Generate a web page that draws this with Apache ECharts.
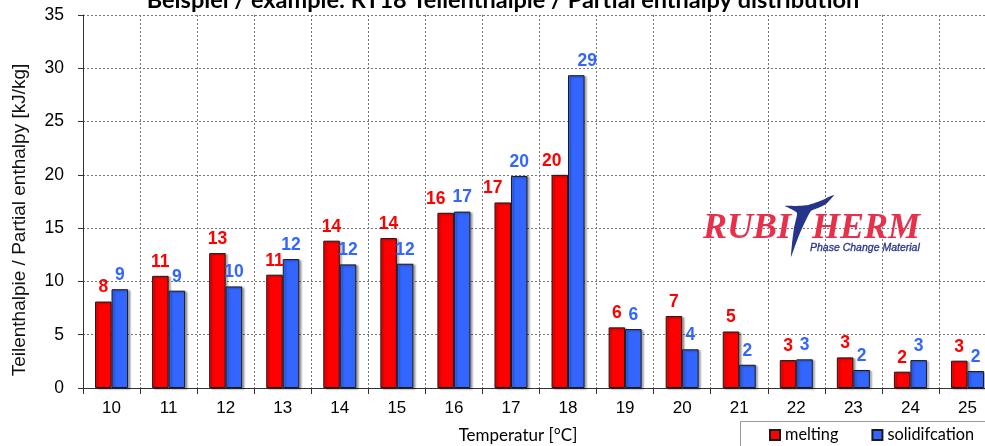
<!DOCTYPE html>
<html>
<head>
<meta charset="utf-8">
<script src="https://cdn.jsdelivr.net/npm/echarts@6/dist/echarts.min.js"></script>
<style>html,body{margin:0;padding:0;background:#fff}#c{width:985px;height:446px}</style>
</head>
<body>
<div id="c"></div>
<script>
var categories = ['10','11','12','13','14','15','16','17','18','19','20','21','22','23','24','25'];
var melting = [8.11, 10.52, 12.66, 10.63, 13.82, 14.07, 16.44, 17.41, 20.0, 5.69, 6.75, 5.3, 2.62, 2.87, 1.53, 2.56];
var solidification = [9.27, 9.13, 9.53, 12.1, 11.6, 11.66, 16.55, 19.9, 29.35, 5.53, 3.63, 2.18, 2.69, 1.69, 2.62, 1.59];
var yTicks = [0, 5, 10, 15, 20, 25, 30, 35];
var seriesNames = ['melting', 'solidifcation'];
var titleText = 'Beispiel / example: RT18 Teilenthalpie / Partial enthalpy distribution';
var xName = 'Temperatur [°C]';
var yName = 'Teilenthalpie / Partial enthalpy [kJ/kg]';

// label adjustments (layout only)
var meltOffsets = {6: [-10, 0], 7: [-10, 0], 8: [-8, 0]};
var solOffsets = {8: [11, 0]};

var RED = '#FF0000', BLUE = '#3366FF';
var sans = '"Liberation Sans", Arial, sans-serif';
var cal = 'Lato, "Open Sans", sans-serif';
var serifLogo = '"Liberation Serif", serif';

function build(vals, offsets) {
  return vals.map(function (v, i) {
    var d = {value: v};
    if (offsets[i]) d.label = {offset: offsets[i]};
    return d;
  });
}

var barItem = function (c) {
  return {color: c, borderColor: '#1a1a1a', borderWidth: 1,
    shadowColor: 'rgba(0,0,0,0.35)', shadowBlur: 2, shadowOffsetX: 2, shadowOffsetY: 1};
};
var lbl = function (c) {
  return {show: true, position: 'top', distance: 5, color: c,
    fontFamily: sans, fontWeight: 'bold', fontSize: 17.5,
    formatter: function (p) { return Math.round(p.value); }};
};

var logoT = [[785,206],[796,206],[808,205],[820,201],[834,195],[826,204],[818,208],[811,211],
  [806,220],[800,233],[795,246],[791,257],[792,244],[794,228],[797,213],[791,209]];

var chart = echarts.init(document.getElementById('c'), null, {renderer: 'canvas'});
chart.setOption({
  animation: false,
  backgroundColor: '#fff',
  grid: {left: 83, top: 15, width: 913, height: 373, containLabel: false, outerBoundsMode: 'none'},
  legend: {
    left: 764, top: 422, itemWidth: 10, itemHeight: 10, itemGap: 33,
    icon: 'rect',
    textStyle: {fontFamily: cal, fontSize: 16.3, color: '#000', padding: [0, 0, 0, 0]},
    data: seriesNames
  },
  xAxis: {
    type: 'category', data: categories,
    axisLine: {lineStyle: {color: '#333', width: 1}},
    axisTick: {show: true, length: 6, lineStyle: {color: '#333'}},
    axisLabel: {fontFamily: sans, fontSize: 17, color: '#000', margin: 12},
    splitLine: {show: true, lineStyle: {color: '#777', type: [2, 2], width: 1}}
  },
  yAxis: {
    type: 'value', min: 0, max: 35, interval: 5,
    axisLine: {show: true, lineStyle: {color: '#333', width: 1}},
    axisTick: {show: true, length: 5, lineStyle: {color: '#333'}},
    axisLabel: {fontFamily: sans, fontSize: 17.5, color: '#000', margin: 19,
      formatter: function (v) { return yTicks.indexOf(v) >= 0 ? String(v) : ''; }},
    splitLine: {show: true, lineStyle: {color: '#777', type: [2, 2], width: 1}}
  },
  series: [
    {name: seriesNames[0], type: 'bar', barWidth: 16.5, barGap: '0%',
     data: build(melting, meltOffsets), itemStyle: barItem(RED), label: lbl(RED)},
    {name: seriesNames[1], type: 'bar', barWidth: 16.5, barGap: '0%',
     data: build(solidification, solOffsets), itemStyle: barItem(BLUE), label: lbl(BLUE)}
  ],
  graphic: [
    {type: 'text', x: 503, y: 0, style: {text: titleText, fontFamily: cal, fontWeight: 'bold',
      fontSize: 23.5, fill: '#000', align: 'center', verticalAlign: 'middle'}},
    {type: 'text', x: 518, y: 436, style: {text: xName, fontFamily: cal, fontSize: 17,
      fill: '#000', align: 'center', verticalAlign: 'middle'}},
    {type: 'text', x: 20, y: 220, rotation: Math.PI / 2, style: {text: yName, fontFamily: sans,
      fontSize: 19, fill: '#111', align: 'center', verticalAlign: 'middle'}},
    {type: 'rect', shape: {x: 740.5, y: 421.5, width: 260, height: 40},
      style: {fill: 'none', stroke: '#9a9a9a', lineWidth: 1}, z: 1},
    {type: 'text', x: 791, y: 229, z: 10, style: {text: 'RUBI', fontFamily: serifLogo,
      fontStyle: 'italic', fontWeight: 'bold', fontSize: 36, fill: '#E8304A', align: 'right', verticalAlign: 'middle'}},
    {type: 'text', x: 812, y: 229, z: 10, style: {text: 'HERM', fontFamily: serifLogo,
      fontStyle: 'italic', fontWeight: 'bold', fontSize: 36, fill: '#E8304A', align: 'left', verticalAlign: 'middle'}},
    {type: 'polygon', z: 11, shape: {points: logoT, smooth: 0.2},
      style: {fill: '#27348B'}},
    {type: 'text', x: 810, y: 248, z: 10, style: {text: 'Phase Change Material', fontFamily: sans,
      fontStyle: 'italic', fontSize: 10.5, fill: '#27348B', stroke: '#27348B', lineWidth: 0.3, verticalAlign: 'middle'}}
  ]
});
</script>
</body>
</html>
